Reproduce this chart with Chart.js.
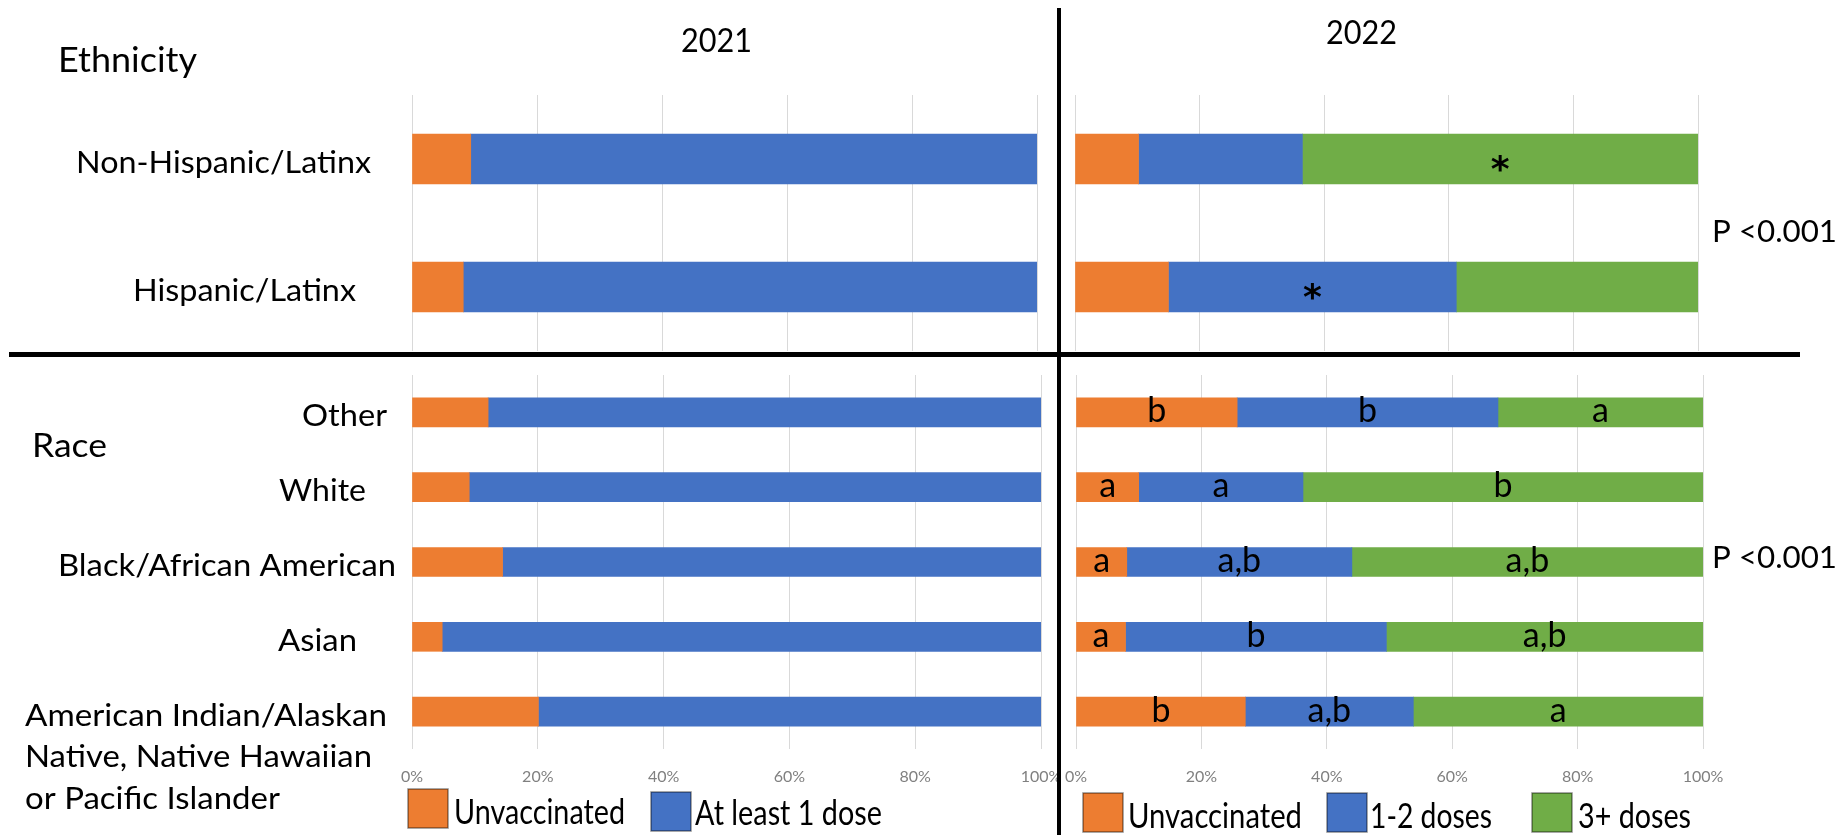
<!DOCTYPE html>
<html>
<head>
<meta charset="utf-8">
<title>COVID-19 vaccination by ethnicity and race, 2021 vs 2022</title>
<script src="https://cdn.jsdelivr.net/npm/chart.js@4.4.0/dist/chart.umd.min.js"></script>
<style>
  html, body { margin: 0; padding: 0; background: #fff; }
  #page { position: relative; width: 1841px; height: 835px; overflow: hidden; }
  #page canvas { position: absolute; }
</style>
</head>
<body>
<div id="page">
  <canvas id="eth2021" width="1060" height="290" style="left:0;top:80px"></canvas>
  <canvas id="eth2022" width="779" height="290" style="left:1062px;top:80px"></canvas>
  <canvas id="race2021" width="1060" height="475" style="left:0;top:360px"></canvas>
  <canvas id="race2022" width="779" height="475" style="left:1062px;top:360px"></canvas>
  <canvas id="frame" width="1841" height="835" style="left:0;top:0"></canvas>
</div>
<script>
// ===== DATA =====
const ethnicityLabels = ['Non-Hispanic/Latinx', 'Hispanic/Latinx'];
const raceLabels = ['Other', 'White', 'Black/African American', 'Asian',
    ['American Indian/Alaskan', 'Native, Native Hawaiian', 'or Pacific Islander']];

// 2021 (% of respondents)
const eth2021Unvax = [9.4, 8.2];
const eth2021Dose = [90.6, 91.8];
const race2021Unvax = [12.1, 9.1, 14.4, 4.8, 20.1];
const race2021Dose = [87.9, 90.9, 85.6, 95.2, 79.9];

// 2022 (% of respondents)
const eth2022Unvax = [10.2, 15.0];
const eth2022Dose12 = [26.3, 46.2];
const eth2022Dose3 = [63.5, 38.8];
const race2022Unvax = [25.7, 10.0, 8.1, 7.9, 27.0];
const race2022Dose12 = [41.6, 26.2, 35.9, 41.6, 26.8];
const race2022Dose3 = [32.7, 63.8, 56.0, 50.5, 46.2];

// significance marks drawn inside the 2022 segments
const eth2022Dose12Marks = ['', '*'];
const eth2022Dose3Marks = ['*', ''];
const race2022UnvaxMarks = ['b', 'a', 'a', 'a', 'b'];
const race2022Dose12Marks = ['b', 'a', 'a,b', 'b', 'a,b'];
const race2022Dose3Marks = ['a', 'b', 'a,b', 'a,b', 'a'];

const pValueText = 'P <0.001';

// ===== STYLE =====
const ORANGE = '#ED7D31';
const BLUE = '#4472C4';
const GREEN = '#70AD47';
const GRID = '#D9D9D9';
const FONT = 'Lato';

// draw text squeezed/stretched horizontally to a fixed width
function fitText(ctx, text, left, baseline, width) {
    const w = ctx.measureText(text).width;
    ctx.save();
    ctx.translate(left, baseline);
    ctx.scale(width / w, 1);
    ctx.textAlign = 'left';
    ctx.textBaseline = 'alphabetic';
    ctx.fillText(text, 0, 0);
    ctx.restore();
}

// category names to the left of the 2021 panels
const sideLabels = {
    id: 'sideLabels',
    afterDraw(chart, args, opts) {
        if (!opts.items) return;
        const ctx = chart.ctx;
        const yScale = chart.scales.y;
        ctx.save();
        ctx.fillStyle = '#000';
        ctx.font = opts.font;
        chart.data.labels.forEach((label, i) => {
            const item = opts.items[i];
            const base = yScale.getPixelForValue(i) + opts.shift;
            const lines = Array.isArray(label) ? label : [label];
            lines.forEach((line, j) => {
                fitText(ctx, line, item.left, base + j * opts.lineHeight, item.widths[j]);
            });
        });
        ctx.restore();
    }
};

// letters / asterisks centred in each stacked segment
const barMarks = {
    id: 'barMarks',
    afterDatasetsDraw(chart) {
        const ctx = chart.ctx;
        ctx.save();
        ctx.fillStyle = '#000';
        ctx.textAlign = 'center';
        ctx.textBaseline = 'alphabetic';
        chart.data.datasets.forEach((ds, di) => {
            if (!ds.marks) return;
            chart.getDatasetMeta(di).data.forEach((bar, i) => {
                const mark = ds.marks[i];
                if (!mark) return;
                const cx = (bar.x + bar.base) / 2;
                if (mark === '*') {
                    ctx.font = 'bold 36px "DejaVu Sans"';
                    ctx.fillText(mark, cx, bar.y + 22);
                } else {
                    ctx.font = '34px ' + FONT;
                    ctx.fillText(mark, cx, bar.y + 10);
                }
            });
        });
        ctx.restore();
    }
};

function segment(label, data, color, thickness, marks) {
    return {
        label: label,
        data: data,
        backgroundColor: color,
        borderWidth: 0,
        barThickness: thickness,
        marks: marks
    };
}

function makeChart(id, labels, datasets, cfg) {
    return new Chart(document.getElementById(id), {
        type: 'bar',
        data: { labels: labels, datasets: datasets },
        options: {
            indexAxis: 'y',
            responsive: false,
            animation: false,
            layout: { padding: cfg.padding },
            plugins: {
                legend: { display: false },
                tooltip: { enabled: false },
                sideLabels: cfg.sideLabels || {}
            },
            scales: {
                x: {
                    type: 'linear',
                    stacked: true,
                    min: 0,
                    max: 100,
                    ticks: {
                        display: cfg.showTicks,
                        stepSize: 20,
                        padding: 18,
                        color: '#808080',
                        font: { family: FONT, size: 16 },
                        callback: v => v + '%'
                    },
                    grid: { color: GRID, drawTicks: false },
                    border: { display: false },
                    // fixed axis height, and let the end labels overhang the plot
                    afterFit: s => {
                        s.height = cfg.showTicks ? 40 : 0;
                        s.paddingLeft = 0;
                        s.paddingRight = 0;
                    }
                },
                y: {
                    stacked: true,
                    ticks: { display: false },
                    grid: { display: false },
                    border: { display: false },
                    afterFit: s => { s.width = 0; }
                }
            }
        },
        plugins: [sideLabels, barMarks]
    });
}

// ===== CHARTS =====
const ethChart2021 = makeChart('eth2021', ethnicityLabels, [
    segment('Unvaccinated', eth2021Unvax, ORANGE, 50),
    segment('At least 1 dose', eth2021Dose, BLUE, 50)
], {
    padding: { left: 412, right: 23, top: 15, bottom: 19 },
    showTicks: false,
    sideLabels: {
        font: '31px ' + FONT, shift: 14, lineHeight: 0,
        items: [{ left: 76, widths: [295] }, { left: 133, widths: [223] }]
    }
});

const ethChart2022 = makeChart('eth2022', ethnicityLabels, [
    segment('Unvaccinated', eth2022Unvax, ORANGE, 50),
    segment('1-2 doses', eth2022Dose12, BLUE, 50, eth2022Dose12Marks),
    segment('3+ doses', eth2022Dose3, GREEN, 50, eth2022Dose3Marks)
], {
    padding: { left: 13, right: 143, top: 15, bottom: 19 },
    showTicks: false
});

const raceChart2021 = makeChart('race2021', raceLabels, [
    segment('Unvaccinated', race2021Unvax, ORANGE, 29),
    segment('At least 1 dose', race2021Dose, BLUE, 29)
], {
    padding: { left: 412, right: 19, top: 15, bottom: 46 },
    showTicks: true,
    sideLabels: {
        font: '31px ' + FONT, shift: 14, lineHeight: 41.5,
        items: [
            { left: 302, widths: [85] },
            { left: 279, widths: [87] },
            { left: 58, widths: [338] },
            { left: 278, widths: [79] },
            { left: 25, widths: [362, 347, 255] }
        ]
    }
});

const raceChart2022 = makeChart('race2022', raceLabels, [
    segment('Unvaccinated', race2022Unvax, ORANGE, 29, race2022UnvaxMarks),
    segment('1-2 doses', race2022Dose12, BLUE, 29, race2022Dose12Marks),
    segment('3+ doses', race2022Dose3, GREEN, 29, race2022Dose3Marks)
], {
    padding: { left: 14, right: 138, top: 15, bottom: 46 },
    showTicks: true
});

// ===== TITLES, DIVIDERS, LEGENDS =====
function drawLegend(ctx, chart, boxes, texts) {
    chart.data.datasets.forEach((ds, i) => {
        const b = boxes[i];
        ctx.fillStyle = ds.backgroundColor;
        ctx.fillRect(b[0], b[1], 40, 39);
        ctx.strokeStyle = 'rgba(0,0,0,0.45)';
        ctx.lineWidth = 1.5;
        ctx.strokeRect(b[0], b[1], 40, 39);
        ctx.fillStyle = '#000';
        fitText(ctx, ds.label, texts[i][0], texts[i][1], texts[i][2]);
    });
}

function drawFrame() {
    const ctx = document.getElementById('frame').getContext('2d');
    ctx.fillStyle = '#000';

    ctx.font = '33px ' + FONT;
    fitText(ctx, '2021', 681, 52, 71);
    fitText(ctx, '2022', 1326, 44, 71);

    ctx.font = '35px ' + FONT;
    fitText(ctx, 'Ethnicity', 58, 72, 139);
    ctx.font = '33px ' + FONT;
    fitText(ctx, 'Race', 32, 457, 75);

    ctx.font = '31px ' + FONT;
    fitText(ctx, pValueText, 1712, 242, 125);
    fitText(ctx, pValueText, 1712, 568, 125);

    // panel dividers
    ctx.fillRect(1057, 8, 4, 827);
    ctx.fillRect(9, 352, 1791, 5);

    ctx.font = '35px ' + FONT;
    drawLegend(ctx, raceChart2021,
        [[408, 789], [651, 792]],
        [[454, 824, 171], [695, 825, 187]]);
    drawLegend(ctx, raceChart2022,
        [[1083, 793], [1327, 793], [1532, 793]],
        [[1128, 828, 174], [1370, 828, 122], [1578, 828, 113]]);
}

drawFrame();
</script>
</body>
</html>
